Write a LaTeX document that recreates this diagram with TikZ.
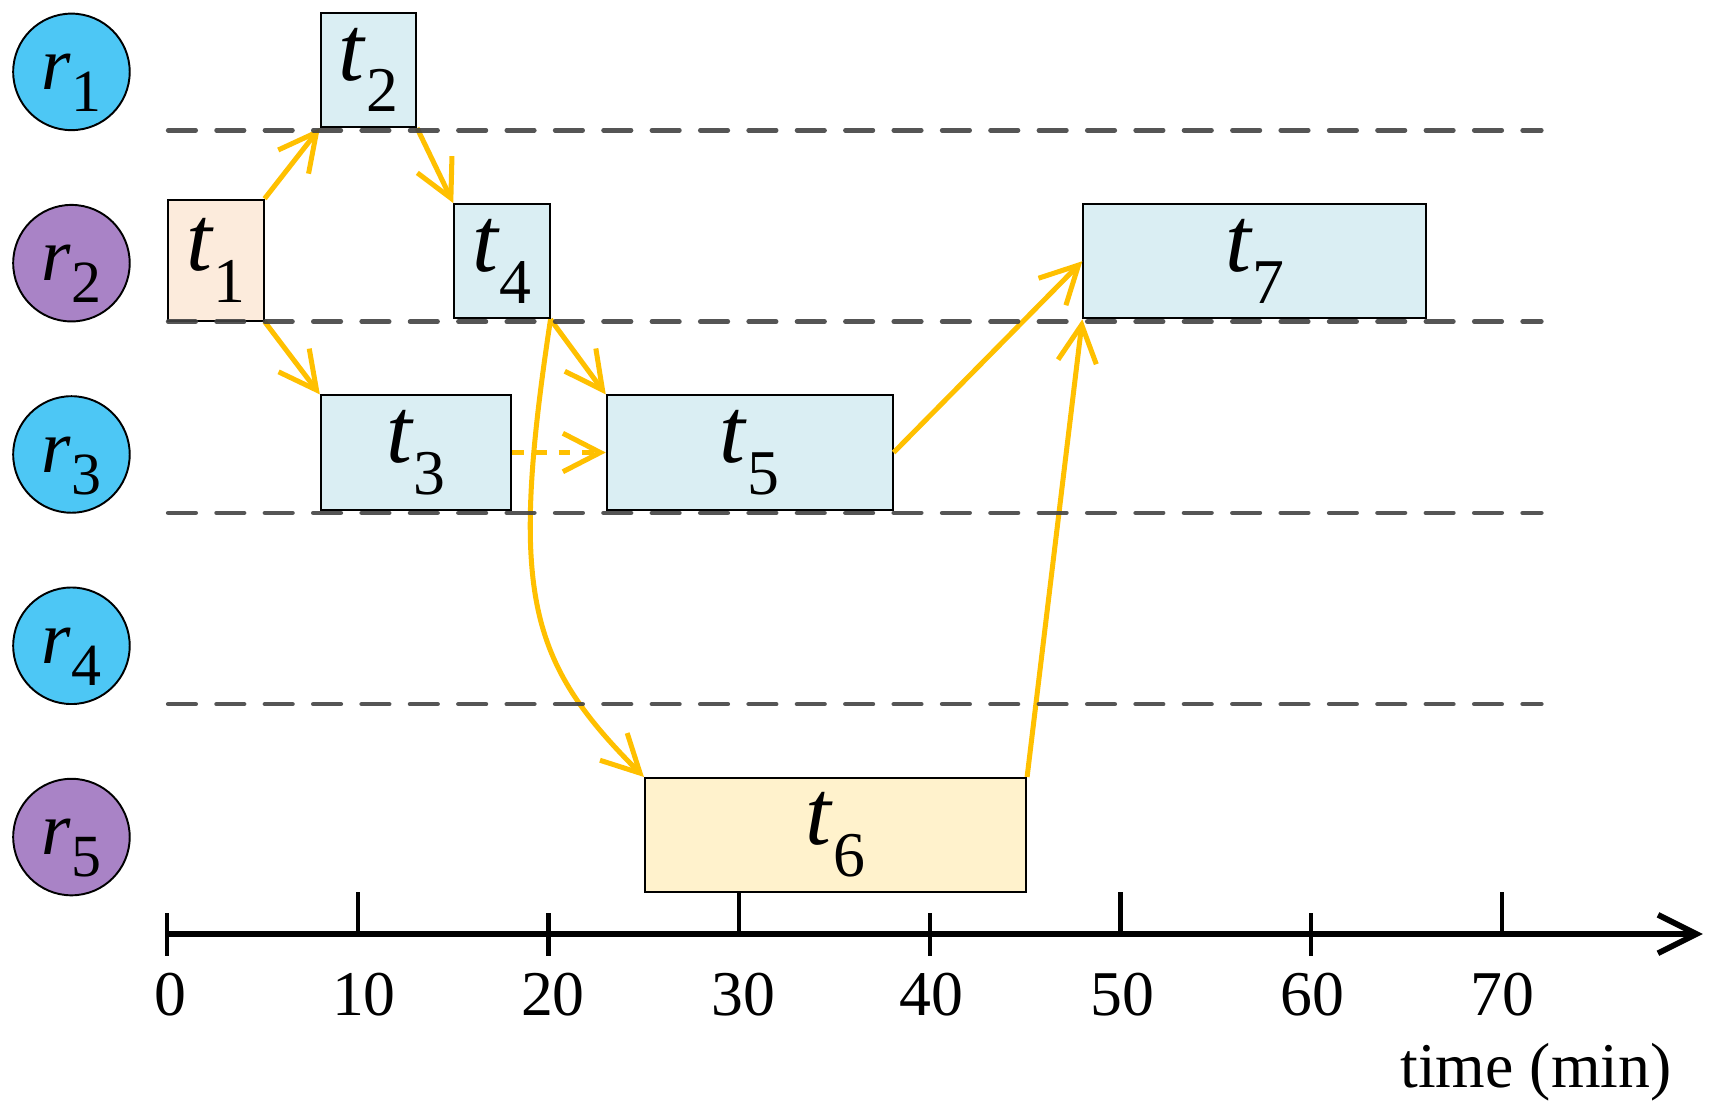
\documentclass[tikz,border=0pt]{standalone}
\usepackage{fontspec}
\setmainfont{Liberation Serif}
\usetikzlibrary{arrows.meta}
\definecolor{rescyan}{RGB}{77,199,245}
\definecolor{respurple}{RGB}{169,131,198}
\definecolor{taskblue}{RGB}{218,238,243}
\definecolor{taskpeach}{RGB}{252,235,220}
\definecolor{taskyellow}{RGB}{255,242,204}
\definecolor{depgold}{RGB}{255,192,0}
\definecolor{lanegray}{RGB}{66,66,66}
\newcommand{\tlab}[1]{\fontsize{24}{26}\selectfont\textit{t}\raisebox{-0.29cm}{\fontsize{16.5}{18}\selectfont #1}}
\newcommand{\rlab}[1]{\fontsize{19.5}{21}\selectfont\textit{r}\raisebox{-0.2cm}{\fontsize{15.5}{17}\selectfont #1}}
\begin{document}
\begin{tikzpicture}[
    task/.style={draw, line width=0.5pt, anchor=south west, inner sep=0pt, minimum height=1.04cm},
    res/.style={circle, draw, line width=0.5pt, minimum size=1.06cm, inner sep=0pt, text height=0.52cm, text depth=0.2cm},
    dep/.style={draw=depgold, line width=1.3pt, -{Straight Barb[length=3.4mm, width=3.5mm]}},
    lane/.style={draw=lanegray, opacity=0.9, line width=1.2pt, line cap=round, dash pattern=on 0.25cm off 0.19cm},
    axtick/.style={line width=1.1pt},
    num/.style={anchor=base, inner sep=0pt, font=\fontsize{16.5}{18}\selectfont}
]
    \useasboundingbox (0,0) rectangle (15.6,10.124);

    % Resources
    \node[res, fill=rescyan] (r1) at (0.65,9.47) {\rlab{1}};
    \node[res, fill=respurple] (r2) at (0.65,7.73) {\rlab{2}};
    \node[res, fill=rescyan] (r3) at (0.65,5.99) {\rlab{3}};
    \node[res, fill=rescyan] (r4) at (0.65,4.25) {\rlab{4}};
    \node[res, fill=respurple] (r5) at (0.65,2.51) {\rlab{5}};

    % Tasks
    \node[task, fill=taskpeach, minimum width=0.867cm, minimum height=1.1cm] (t1) at (1.522,7.199) {\tlab{1}};
    \node[task, fill=taskblue, minimum width=0.867cm] (t2) at (2.909,8.959) {\tlab{2}};
    \node[task, fill=taskblue, minimum width=1.734cm] (t3) at (2.909,5.479) {\tlab{3}};
    \node[task, fill=taskblue, minimum width=0.867cm] (t4) at (4.123,7.219) {\tlab{4}};
    \node[task, fill=taskblue, minimum width=2.601cm] (t5) at (5.510,5.479) {\tlab{5}};
    \node[task, fill=taskyellow, minimum width=3.468cm] (t6) at (5.857,1.999) {\tlab{6}};
    \node[task, fill=taskblue, minimum width=3.121cm] (t7) at (9.845,7.219) {\tlab{7}};

    % Dependencies
    \draw[dep] (t1.north east) -- (t2.south west);
    \draw[dep] (t2.south east) -- (t4.north west);
    \draw[dep] (t1.south east) -- (t3.north west);
    \draw[dep, dashed] (t3.east) -- (t5.west);
    \draw[dep] (t4.south east) -- (t5.north west);
    \draw[dep] (t4.south east) .. controls +(-0.38,-2.5) and +(-1.05,1.05) .. (t6.north west);
    \draw[dep] (t5.east) -- (t7.west);
    \draw[dep] (t6.north east) -- (t7.south west);

    % Lanes
    \draw[lane] (1.53,8.939) -- (14.02,8.939);
    \draw[lane] (1.53,7.199) -- (14.02,7.199);
    \draw[lane] (1.53,5.459) -- (14.02,5.459);
    \draw[lane] (1.53,3.719) -- (14.02,3.719);

    % Time axis
    \draw[line width=1.5pt, -{Straight Barb[length=3.5mm, width=3.5mm]}] (1.522,1.628) -- (15.49,1.628);
    \draw[axtick] (1.522,1.43) -- (1.522,1.82);
    \draw[axtick] (3.256,1.628) -- (3.256,2.014);
    \draw[axtick] (4.990,1.43) -- (4.990,1.82);
    \draw[axtick] (6.724,1.628) -- (6.724,2.014);
    \draw[axtick] (8.458,1.43) -- (8.458,1.82);
    \draw[axtick] (10.192,1.628) -- (10.192,2.014);
    \draw[axtick] (11.926,1.43) -- (11.926,1.82);
    \draw[axtick] (13.660,1.628) -- (13.660,2.014);

    \node[num] (n0) at (1.55,0.89) {0};
    \node[num] (n10) at (3.31,0.89) {10};
    \node[num] (n20) at (5.03,0.89) {20};
    \node[num] (n30) at (6.76,0.89) {30};
    \node[num] (n40) at (8.47,0.89) {40};
    \node[num] (n50) at (10.21,0.89) {50};
    \node[num] (n60) at (11.94,0.89) {60};
    \node[num] (n70) at (13.67,0.89) {70};
    \node[num, anchor=base east] (unit) at (15.21,0.23) {time (min)};
\end{tikzpicture}
\end{document}
